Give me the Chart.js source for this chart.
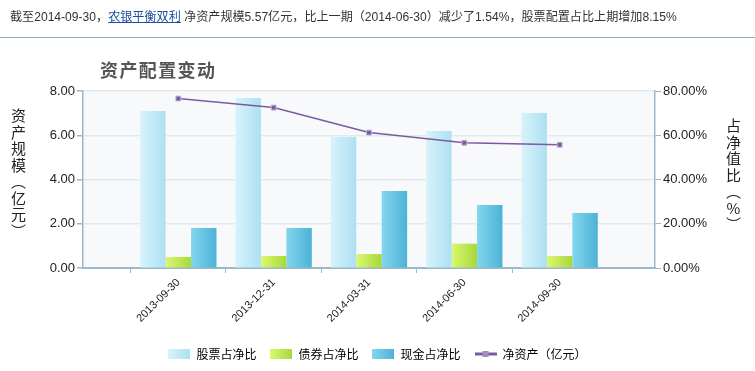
<!DOCTYPE html>
<html>
<head>
<meta charset="utf-8">
<script src="https://cdn.jsdelivr.net/npm/chart.js@4.4.1/dist/chart.umd.min.js"></script>
<style>
    html, body { margin: 0; padding: 0; background: #fff; }
    body { width: 755px; height: 371px; position: relative; overflow: hidden;
           font-family: "Liberation Sans", "Noto Sans CJK SC", sans-serif; }
    .head { position: absolute; left: 0; top: 0; width: 755px; height: 38px;
            border-bottom: 1px solid #8fb1c3; font-size: 12.1px; color: #333;
            line-height: 34px; padding-left: 10px; box-sizing: border-box; white-space: nowrap; }
    .head a { color: #1a4fa0; text-decoration: underline; }
    .title { position: absolute; left: 100px; top: 56px; font-size: 18px; font-weight: bold;
             color: #555; font-family: "Noto Sans CJK SC", sans-serif; letter-spacing: 1.4px; }
    .vt { position: absolute; writing-mode: vertical-rl; text-orientation: mixed;
          font-size: 15px; color: #222; font-family: "Noto Sans CJK SC", sans-serif; letter-spacing: 1.5px; }
    .vt .up { text-orientation: upright; }
    #wrap { position: absolute; left: 0; top: 0; width: 755px; height: 371px; }
</style>
</head>
<body>
<div id="wrap"><canvas id="chart"></canvas></div>
<div class="head">截至2014-09-30，<a href="#">农银平衡双利</a> 净资产规模5.57亿元，比上一期（2014-06-30）减少了1.54%，股票配置占比上期增加8.15%</div>
<div class="title">资产配置变动</div>
<div class="vt" style="left:8px; top:108px;">资产规模（亿元）</div>
<div class="vt" style="left:723px; top:118px;">占净值比（<span class="up">%</span>）</div>
<script>
// report dates
const categories = ['2013-09-30', '2013-12-31', '2014-03-31', '2014-06-30', '2014-09-30'];
// percentage of net value
const stockPct = [71.0, 76.8, 59.2, 61.9, 70.1];
const bondPct = [5.0, 5.4, 6.3, 11.0, 5.4];
const cashPct = [18.1, 18.1, 34.8, 28.5, 24.9];
// net assets, 100 million yuan
const netAssets = [7.66, 7.25, 6.12, 5.66, 5.57];
const leftTicks = [0, 2, 4, 6, 8];
const rightTicks = [0, 20, 40, 60, 80];

// one empty slot on each side, like the original axis
const labels = ['', ...categories, ''];
const pad = arr => [null, ...arr, null];

const axisColor = '#9bb8cc';
const gridColor = '#e3e9f1';

const barGrads = [
    ['#d7f3fb', '#ade0f1'],
    ['#dbf870', '#a6d83a'],
    ['#82d6ef', '#4db2d6']
];

function barFill(k) {
    return function (ctx) {
        const chart = ctx.chart;
        const x = chart.scales && chart.scales.x;
        if (ctx.type !== 'data' || !x || ctx.dataIndex == null) return barGrads[k][1];
        const step = x.getPixelForValue(1) - x.getPixelForValue(0);
        const w = step * 0.8 / 3;
        const cx = x.getPixelForValue(ctx.dataIndex) + (k - 1) * w;
        const g = chart.ctx.createLinearGradient(cx - w / 2, 0, cx + w / 2, 0);
        g.addColorStop(0, barGrads[k][0]);
        g.addColorStop(1, barGrads[k][1]);
        return g;
    };
}

function legendIcon(k) {
    const c = document.createElement('canvas');
    c.width = 22; c.height = 10;
    const g = c.getContext('2d');
    if (k < 3) {
        const gr = g.createLinearGradient(0, 0, 22, 0);
        gr.addColorStop(0, barGrads[k][0]);
        gr.addColorStop(1, barGrads[k][1]);
        g.fillStyle = gr;
        g.fillRect(0, 0, 22, 10);
    } else {
        g.strokeStyle = '#7b5aa0';
        g.lineWidth = 3;
        g.beginPath(); g.moveTo(0, 5); g.lineTo(22, 5); g.stroke();
        g.fillStyle = '#a58bc4';
        g.fillRect(8, 2, 6, 6);
    }
    return c;
}

const legendNames = ['股票占净比', '债券占净比', '现金占净比', '净资产（亿元）'];

new Chart(document.getElementById('chart'), {
    type: 'bar',
    data: {
        labels: labels,
        datasets: [
            { label: legendNames[0], data: pad(stockPct), yAxisID: 'y1', backgroundColor: barFill(0), order: 1 },
            { label: legendNames[1], data: pad(bondPct), yAxisID: 'y1', backgroundColor: barFill(1), order: 1 },
            { label: legendNames[2], data: pad(cashPct), yAxisID: 'y1', backgroundColor: barFill(2), order: 1 },
            {
                type: 'line', label: legendNames[3], data: pad(netAssets), yAxisID: 'y', order: 0,
                borderColor: '#7b5aa0', borderWidth: 1.5, pointStyle: 'rect', pointRadius: 3.5,
                pointBackgroundColor: '#7b5aa0', pointBorderColor: '#c9b8dd', pointBorderWidth: 1,
                tension: 0, spanGaps: false
            }
        ]
    },
    options: {
        responsive: true,
        maintainAspectRatio: false,
        animation: false,
        categoryPercentage: 0.8,
        barPercentage: 1.0,
        layout: { padding: { top: 91, left: 0, right: 0, bottom: 1 } },
        plugins: {
            tooltip: { enabled: false },
            legend: {
                position: 'bottom',
                labels: {
                    usePointStyle: true,
                    pointStyleWidth: 22,
                    padding: 14,
                    color: '#222',
                    font: { size: 12, family: '"Noto Sans CJK SC", sans-serif' },
                    generateLabels: () => legendNames.map((n, i) => ({
                        text: n, pointStyle: legendIcon(i), datasetIndex: i, hidden: false,
                        fillStyle: 'transparent', strokeStyle: 'transparent', lineWidth: 0
                    }))
                },
                onClick: () => {}
            }
        },
        scales: {
            x: {
                offset: false,
                border: { color: axisColor, width: 2 },
                grid: {
                    drawOnChartArea: false,
                    tickLength: 5,
                    tickColor: c => (labels[c.index] ? axisColor : 'transparent')
                },
                ticks: {
                    autoSkip: false, minRotation: 45, maxRotation: 45,
                    color: '#222', font: { size: 11, family: '"Liberation Sans", sans-serif' }
                },
                afterFit: s => { s.height = 66; }
            },
            y: {
                position: 'left',
                min: 0, max: 8,
                border: { color: axisColor, width: 1.5 },
                grid: { color: gridColor, tickColor: axisColor, tickLength: 6, lineWidth: 1.5 },
                afterBuildTicks: s => { s.ticks = leftTicks.map(v => ({ value: v })); },
                ticks: {
                    color: '#222', padding: 2,
                    font: { size: 13, family: '"Liberation Sans", sans-serif' },
                    callback: v => v.toFixed(2)
                },
                afterFit: s => { s.width = 83; }
            },
            y1: {
                position: 'right',
                min: 0, max: 80,
                border: { color: axisColor, width: 1.5 },
                grid: { drawOnChartArea: false, tickColor: axisColor, tickLength: 6 },
                afterBuildTicks: s => { s.ticks = rightTicks.map(v => ({ value: v })); },
                ticks: {
                    color: '#222', padding: 2,
                    font: { size: 13, family: '"Liberation Sans", sans-serif' },
                    callback: v => v.toFixed(2) + '%'
                },
                afterFit: s => { s.width = 100; }
            }
        }
    },
    plugins: [{
        id: 'chartBg',
        beforeDraw(chart) {
            const a = chart.chartArea;
            const c = chart.ctx;
            c.save();
            c.fillStyle = '#f8f9fb';
            c.fillRect(a.left, a.top, a.right - a.left, a.bottom - a.top);
            c.restore();
        }
    }]
});
</script>
</body>
</html>
